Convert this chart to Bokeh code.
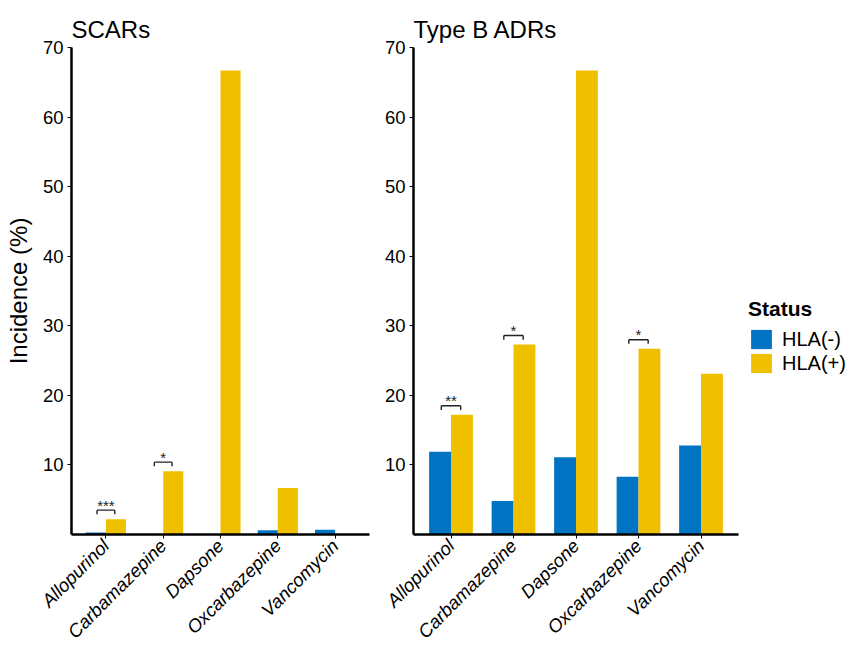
import numpy as np
from bokeh.plotting import figure
from bokeh.layouts import row
from bokeh.models import Range1d, FixedTicker, ColumnDataSource, Legend, LegendItem
from bokeh.embed import file_html
from bokeh.resources import INLINE
from bokeh.core.properties import value
from math import pi

# ---- data ----
drugs = ["Allopurinol", "Carbamazepine", "Dapsone", "Oxcarbazepine", "Vancomycin"]
scars_neg = [0.3, 0.0, 0.0, 0.6, 0.7]
scars_pos = [2.2, 9.1, 66.7, 6.7, 0.0]
scars_sig = ["***", "*", "", "", ""]
typeb_neg = [11.9, 4.8, 11.1, 8.3, 12.8]
typeb_pos = [17.2, 27.3, 66.7, 26.7, 23.1]
typeb_sig = ["**", "*", "", "*", ""]
y_ticks = [10, 20, 30, 40, 50, 60, 70]
status_labels = ["HLA(-)", "HLA(+)"]

FONT = "Liberation Sans"
BLUE = "#0073C2"
YELLOW = "#EFC000"
BW = 0.35


def make_panel(title, neg, pos, sig, fw, bl, br, ylabel=None):
    x = np.arange(1, len(drugs) + 1, dtype=float)
    p = figure(frame_width=fw, frame_height=487,
               x_range=Range1d(0.4, len(drugs) + 0.6), y_range=Range1d(0, 70),
               output_backend="svg", toolbar_location=None,
               min_border_left=bl, min_border_right=br,
               min_border_top=47, min_border_bottom=116)
    src = ColumnDataSource(dict(xn=x - BW / 2, xp=x + BW / 2, neg=neg, pos=pos))
    rn = p.vbar(x="xn", top="neg", bottom=0, width=BW, source=src,
                fill_color=BLUE, line_color=None)
    rp = p.vbar(x="xp", top="pos", bottom=0, width=BW, source=src,
                fill_color=YELLOW, line_color=None)

    # significance brackets
    x0s, x1s, y0s, y1s, tx, ty, tt = [], [], [], [], [], [], []
    for i, s in enumerate(sig):
        if not s:
            continue
        xa = x[i] - BW / 2 + 0.02
        xb = x[i] + BW / 2 - 0.02
        yb = max(neg[i], pos[i]) + 1.3
        x0s += [xa, xa, xb]
        x1s += [xb, xa, xb]
        y0s += [yb, yb, yb]
        y1s += [yb, yb - 0.6, yb - 0.6]
        tx.append(x[i])
        ty.append(yb + 0.7)
        tt.append(s)
    p.segment(x0=x0s, y0=y0s, x1=x1s, y1=y1s, line_color="#222222", line_width=1.4)
    p.text(x=tx, y=ty, text=tt, text_align="center", text_baseline="alphabetic",
           text_font=value(FONT), text_font_size="15px", text_color="#222222")

    p.title.text = title
    p.title.text_font = FONT
    p.title.text_font_size = "24px"
    p.title.text_font_style = "normal"
    p.title.align = "left"
    p.title.offset = 0
    p.title.standoff = 9
    p.title.text_color = "black"

    p.xgrid.visible = False
    p.ygrid.visible = False
    p.outline_line_color = None

    p.xaxis.ticker = FixedTicker(ticks=list(x))
    p.xaxis.major_label_overrides = {float(v): d for v, d in zip(x, drugs)}
    p.xaxis.major_label_overrides.update({int(v): d for v, d in zip(x, drugs)})
    p.xaxis.major_label_orientation = pi / 4
    p.xaxis.major_label_text_font_style = "italic"
    p.xaxis.major_label_text_font_size = "18.5px"
    p.yaxis.ticker = FixedTicker(ticks=y_ticks)
    p.yaxis.major_label_text_font_size = "18.5px"
    for ax in (p.xaxis, p.yaxis):
        ax.axis_line_width = 2.5
        ax.axis_line_color = "black"
        ax.major_tick_line_color = "black"
        ax.major_tick_line_width = 1
        ax.major_tick_out = 4
        ax.major_tick_in = 0
        ax.minor_tick_line_color = None
        ax.major_label_text_font = FONT
        ax.major_label_text_color = "black"
        ax.major_label_standoff = 4
    if ylabel:
        p.yaxis.axis_label = ylabel
        p.yaxis.axis_label_text_font = FONT
        p.yaxis.axis_label_text_font_size = "24px"
        p.yaxis.axis_label_text_font_style = "normal"
        p.yaxis.axis_label_text_color = "black"
        p.yaxis.axis_label_standoff = 8
    return p, rn, rp


p1, _, _ = make_panel("SCARs", scars_neg, scars_pos, scars_sig, 298, 71, 8,
                      ylabel="Incidence (%)")
p2, rn2, rp2 = make_panel("Type B ADRs", typeb_neg, typeb_pos, typeb_sig, 325, 36, 121)

legend = Legend(items=[LegendItem(label=status_labels[0], renderers=[rn2]),
                       LegendItem(label=status_labels[1], renderers=[rp2])],
                title="Status", location=(10, 159))
legend.title_text_font = FONT
legend.title_text_font_size = "21px"
legend.title_text_font_style = "bold"
legend.title_text_color = "black"
legend.title_standoff = 6
legend.label_text_font = FONT
legend.label_text_font_size = "20px"
legend.label_text_color = "black"
legend.glyph_width = 26
legend.glyph_height = 24
legend.label_height = 20
legend.spacing = -5
legend.padding = 0
legend.margin = 0
legend.label_standoff = 8
legend.border_line_color = None
legend.background_fill_color = None
p2.add_layout(legend, "right")

layout = row(p1, p2)
open("out.html", "w").write(file_html(layout, INLINE))
